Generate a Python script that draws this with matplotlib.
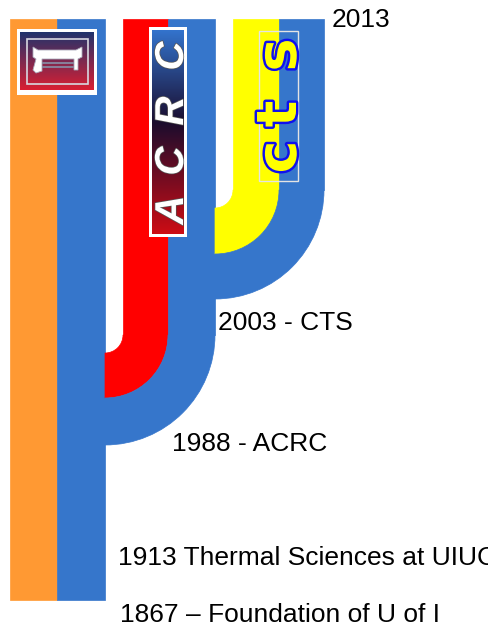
import numpy as np
import matplotlib.pyplot as plt
from matplotlib.patches import Rectangle, Wedge, Polygon
import matplotlib.patheffects as pe

# milestones (top to bottom)
milestone_years = [2013, 2003, 1988, 1913, 1867]
milestone_labels = ["2013", "2003 - CTS", "1988 - ACRC",
                    "1913 Thermal Sciences at UIUC", "1867 \u2013 Foundation of U of I"]
label_x = [332, 218, 172, 118, 120]
label_baseline = [27, 330, 451, 565, 622]

ORANGE = "#FF9933"
BLUE = "#3676CB"
RED = "#FF0000"
YELLOW = "#FFFF00"

# trunk bands: (x0, x1, colour)
trunk_bands = [(10, 57, ORANGE), (57, 105, BLUE)]
# branches: centre of bend, list of (r_inner, r_outer, colour)
branches = [
    ((105, 335), [(18, 63, RED), (63, 110, BLUE)]),
    ((215, 190), [(18, 64, YELLOW), (64, 109, BLUE)]),
]
top_y, bottom_y = 19, 600

fig = plt.figure(figsize=(4.88, 6.27), dpi=100)
ax = fig.add_axes([0, 0, 1, 1])
ax.set_xlim(0, 488)
ax.set_ylim(627, 0)
ax.axis("off")

for x0, x1, c in trunk_bands:
    ax.add_patch(Rectangle((x0, top_y), x1 - x0, bottom_y - top_y,
                           facecolor=c, edgecolor=c, lw=0.5))

for (cx, cy), bands in branches:
    for r0, r1, c in bands:
        ax.add_patch(Rectangle((cx + r0, top_y), r1 - r0, cy - top_y,
                               facecolor=c, edgecolor=c, lw=0.5))
        ax.add_patch(Wedge((cx, cy), r1, 0, 90, width=r1 - r0,
                           facecolor=c, edgecolor=c, lw=0.5))

# --- UIUC logo ---
ax.add_patch(Rectangle((17, 29), 80, 66, facecolor="white", edgecolor="none"))
grad = np.linspace(0, 1, 64)[:, None]
navy = np.array([0.13, 0.20, 0.42])
crim = np.array([0.85, 0.12, 0.20])
img = navy[None, None, :] * (1 - grad[:, :, None]) + crim[None, None, :] * grad[:, :, None]
ax.imshow(np.repeat(img, 4, axis=1), extent=(20, 94, 90, 32), origin="upper",
          aspect="auto", zorder=3)
ax.add_patch(Rectangle((27, 39), 61, 45, facecolor="none", edgecolor="#d8d8e0",
                       lw=1.2, zorder=4))
ax.add_patch(Polygon([(33, 47), (38, 50), (76, 50), (82, 47), (82, 57), (78, 59),
                      (78, 70), (74, 70), (74, 59), (42, 59), (42, 71), (36, 73),
                      (33, 70), (36, 59), (33, 57)],
                     closed=True, facecolor="white", edgecolor="#aab", lw=0.6, zorder=5))
ax.plot([43, 73], [63, 63], color="#8890a8", lw=1.2, zorder=6)
ax.plot([43, 73], [67, 67], color="#8890a8", lw=1.2, zorder=6)

# --- ACRC logo ---
ax.add_patch(Rectangle((149, 27), 38, 210, facecolor="white", edgecolor="none", zorder=3))
t = np.linspace(0, 1, 128)
c_top = np.array([0.20, 0.45, 0.80])
c_mid = np.array([0.10, 0.05, 0.18])
c_bot = np.array([0.80, 0.05, 0.08])
col = np.where(t[:, None] < 0.45,
               c_top + (c_mid - c_top) * (t[:, None] / 0.45),
               c_mid + (c_bot - c_mid) * ((t[:, None] - 0.45) / 0.55))
ax.imshow(np.repeat(col[:, None, :], 4, axis=1), extent=(152, 184, 234, 30),
          origin="upper", aspect="auto", zorder=4)
for ch, yc in zip("ACRC", [210, 161, 111, 56]):
    ax.text(183, yc, ch, rotation=90, rotation_mode="anchor", ha="center",
            va="baseline", fontsize=29, color="white", fontweight="bold",
            fontstyle="italic", family="Liberation Sans", zorder=5,
            path_effects=[pe.withStroke(linewidth=1, foreground="#555555")])

# --- CTS logo ---
ax.add_patch(Rectangle((259, 31), 39, 150, facecolor="none", edgecolor="#e4e4e4",
                       lw=1, zorder=3))
for ch, yc in zip("cts", [157, 114, 55]):
    ax.text(296, yc, ch, rotation=90, rotation_mode="anchor", ha="center",
            va="baseline", fontsize=40, color=YELLOW, fontweight="bold",
            family="DejaVu Sans", zorder=5,
            path_effects=[pe.withStroke(linewidth=3.5, foreground="#1010ee")])

for lab, x, y in zip(milestone_labels, label_x, label_baseline):
    ax.text(x, y, lab, ha="left", va="baseline", fontsize=19,
            family="Liberation Sans", color="black")

fig.savefig("out.png", dpi=100)
